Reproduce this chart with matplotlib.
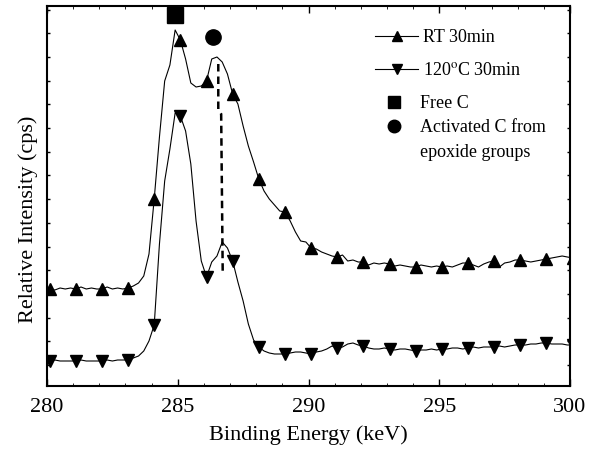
import numpy as np
import matplotlib.pyplot as plt
from matplotlib.ticker import MultipleLocator

plt.rcParams['font.family'] = ['Liberation Serif', 'DejaVu Serif']
plt.rcParams['mathtext.fontset'] = 'stix'

# binding energy grid (eV), 0.2 step
energy = np.round(np.arange(279.9, 300.11, 0.2), 1)

# RT 30min (arb. units)
rt_30min = [97, 97, 96, 98, 97, 98, 97, 99, 97, 98,
            97, 97, 99, 97, 98, 97, 98, 100, 103, 110,
            132, 187, 249, 305, 321, 356, 346, 327, 303, 299,
            300, 305, 327, 329, 324, 312, 292, 282, 260, 240,
            224, 207, 195, 187, 181, 175, 174, 165, 154, 145,
            144, 138, 137, 134, 132, 130, 129, 131, 125, 126,
            124, 124, 121, 123, 122, 123, 122, 120, 121, 120,
            119, 119, 121, 120, 119, 120, 119, 120, 119, 121,
            123, 123, 121, 119, 122, 124, 125, 119, 123, 124,
            126, 126, 125, 124, 125, 126, 127, 128, 129, 130,
            129, 128]

# 120 C 30min (arb. units)
c120_30min = [25, 25, 26, 25, 25, 25, 25, 26, 25, 25,
              25, 25, 26, 25, 26, 26, 26, 28, 30, 35,
              45, 61, 142, 205, 237, 273, 270, 255, 222, 165,
              125, 109, 124, 130, 144, 138, 125, 104, 85, 62,
              46, 39, 35, 33, 32, 32, 32, 33, 34, 34,
              33, 32, 34, 35, 37, 40, 38, 39, 42, 43,
              41, 40, 38, 37, 37, 38, 37, 36, 37, 37,
              36, 35, 36, 36, 37, 36, 37, 37, 38, 38,
              37, 38, 39, 38, 39, 39, 39, 40, 39, 40,
              41, 41, 41, 42, 42, 43, 43, 42, 42, 42,
              41, 41]

# peak annotations
free_c = (284.9, 371)
activated_c = (286.35, 349)
guide_x = [286.55, 286.55, 286.66, 286.72]
guide_y = [322, 277, 272, 112]

fig = plt.figure(figsize=(5.96, 4.52), dpi=100)
ax = fig.add_axes([47/596, 65/452, 523/596, 380/452])

ax.plot(energy, rt_30min, color='black', lw=0.8, marker='^', ms=8,
        markevery=(1, 5))
ax.plot(energy, c120_30min, color='black', lw=0.8, marker='v', ms=8,
        markevery=(1, 5))
ax.plot(*free_c, marker='s', ms=11, color='black', ls='none')
ax.plot(*activated_c, marker='o', ms=11, color='black', ls='none')
ax.plot(guide_x, guide_y, color='black', lw=1.8, ls=(0, (3, 2)))

ax.set_xlim(280, 300)
ax.set_ylim(0, 380)
ax.xaxis.set_major_locator(MultipleLocator(5))
ax.xaxis.set_minor_locator(MultipleLocator(1))
ax.set_yticks(np.arange(21, 380, 23.7))
ax.set_yticklabels([])
ax.tick_params(axis='x', which='major', direction='in', top=True, length=5,
               width=1, labelsize=16, pad=8)
ax.tick_params(axis='x', which='minor', direction='in', top=True, length=2.5)
ax.tick_params(axis='y', direction='in', right=True, length=2.5, width=1)
for s in ax.spines.values():
    s.set_linewidth(1.5)

ax.set_xlabel('Binding Energy (keV)', fontsize=16, labelpad=6)
ax.set_ylabel('Relative Intensity (cps)', fontsize=16)
ax.yaxis.set_label_coords(-0.018, 0.44)

# legend drawn by hand
tr = ax.transAxes
ax.plot([0.627, 0.709], [0.921, 0.921], color='black', lw=0.8, transform=tr)
ax.plot(0.669, 0.921, marker='^', ms=7, color='black', transform=tr)
ax.text(0.719, 0.921, 'RT 30min', fontsize=13, va='center', transform=tr)
ax.plot([0.627, 0.709], [0.834, 0.834], color='black', lw=0.8, transform=tr)
ax.plot(0.669, 0.834, marker='v', ms=7, color='black', transform=tr)
ax.text(0.719, 0.834, r'120$^{\rm o}$C 30min', fontsize=13, va='center', transform=tr)
ax.plot(0.663, 0.747, marker='s', ms=9, color='black', transform=tr)
ax.text(0.713, 0.747, 'Free C', fontsize=13, va='center', transform=tr)
ax.plot(0.663, 0.684, marker='o', ms=9, color='black', transform=tr)
ax.text(0.713, 0.684, 'Activated C from', fontsize=13, va='center', transform=tr)
ax.text(0.713, 0.616, 'epoxide groups', fontsize=13, va='center', transform=tr)

plt.savefig('out.png', dpi=100)
